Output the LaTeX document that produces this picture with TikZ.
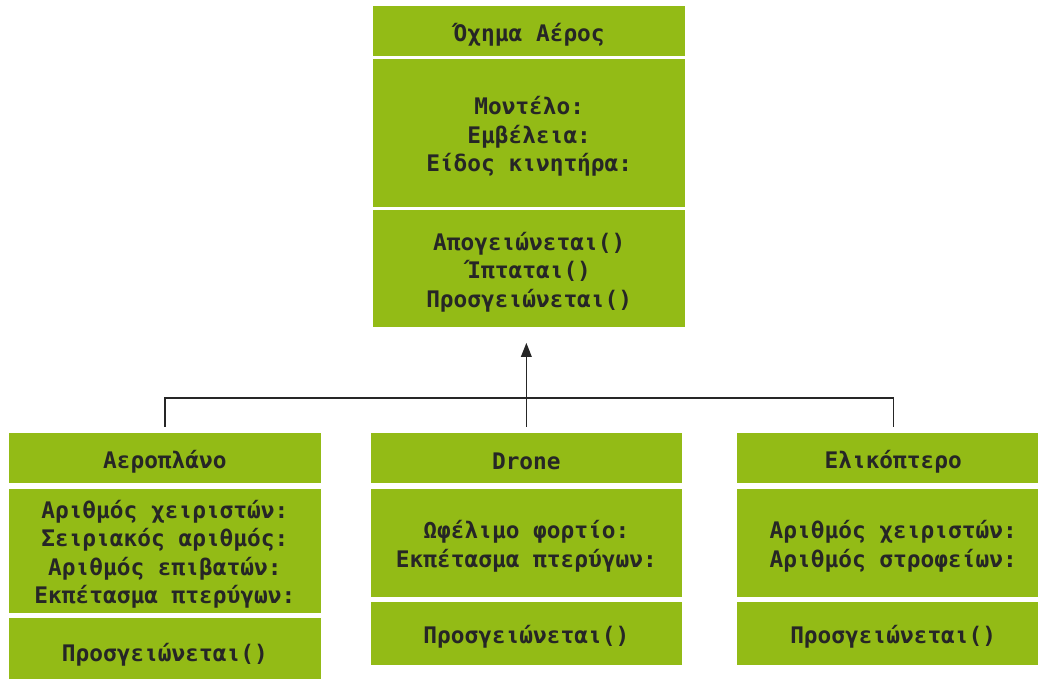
\documentclass[tikz,border=0pt]{standalone}
\usepackage{fontspec}
\usetikzlibrary{arrows.meta}
\newfontfamily\boxfont{DejaVu Sans Mono}
\definecolor{boxgreen}{RGB}{147,187,22}
\definecolor{inkdark}{RGB}{38,38,38}
\tikzset{
  sect/.style={fill=boxgreen, draw=none, inner sep=0pt},
  txt/.style={inner sep=0pt, align=center, yshift=-3.5pt,
    text=inkdark, font={\boxfont\bfseries\fontsize{22.8}{28.4}\selectfont}},
  conn/.style={draw=inkdark, line width=1.4pt},
}
\begin{document}
\begin{tikzpicture}[x=1pt,y=-1pt]
\useasboundingbox (0,0) rectangle (1038,679);
% top class
\node[sect, minimum width=311.7pt, minimum height=49.7pt, label={[txt]center:{Όχημα Αέρος}}] (top-t) at (529.2,30.85) {};
\node[sect, minimum width=311.7pt, minimum height=147.4pt, label={[txt]center:{Μοντέλο:\\Εμβέλεια:\\Είδος κινητήρα:}}] (top-a) at (529.2,133) {};
\node[sect, minimum width=311.7pt, minimum height=117.3pt, label={[txt]center:{Απογειώνεται()\\Ίπταται()\\Προσγειώνεται()}}] (top-m) at (529.2,268.65) {};
% left class
\node[sect, minimum width=311.7pt, minimum height=50.3pt, label={[txt]center:{Αεροπλάνο}}] (ap-t) at (164.85,457.85) {};
\node[sect, minimum width=311.7pt, minimum height=123.7pt, label={[txt]center:{Αριθμός χειριστών:\\Σειριακός αριθμός:\\Αριθμός επιβατών:\\Εκπέτασμα πτερύγων:}}] (ap-a) at (164.85,550.85) {};
\node[sect, minimum width=311.7pt, minimum height=66.7pt, label={[txt]center:{Προσγειώνεται()}}] (ap-m) at (164.85,651.65) {};
% middle class
\node[sect, minimum width=311.3pt, minimum height=50.3pt, label={[txt]center:{Drone}}] (dr-t) at (526.35,457.85) {};
\node[sect, minimum width=311.3pt, minimum height=107.7pt, label={[txt]center:{Ωφέλιμο φορτίο:\\Εκπέτασμα πτερύγων:}}] (dr-a) at (526.35,542.85) {};
\node[sect, minimum width=311.3pt, minimum height=63.3pt, label={[txt]center:{Προσγειώνεται()}}] (dr-m) at (526.35,633.65) {};
% right class
\node[sect, minimum width=311.7pt, minimum height=50.3pt, label={[txt]center:{Ελικόπτερο}}] (el-t) at (893.2,457.85) {};
\node[sect, minimum width=311.7pt, minimum height=107.7pt, label={[txt]center:{Αριθμός χειριστών:\\Αριθμός στροφείων:}}] (el-a) at (893.2,542.85) {};
\node[sect, minimum width=311.7pt, minimum height=63.3pt, label={[txt]center:{Προσγειώνεται()}}] (el-m) at (893.2,633.65) {};
% connectors
\coordinate (bus) at (526,404);
\draw[conn] ([yshift=6pt]ap-t.north) -- ([yshift=6pt]ap-t.north |- bus)
  -- ([yshift=6pt]el-t.north |- bus) -- ([yshift=6pt]el-t.north);
\draw[conn, -{Triangle[length=14pt,width=10.7pt]}] ([yshift=6pt]dr-t.north) -- ([yshift=-15.4pt]dr-t.north |- top-m.south);
\end{tikzpicture}
\end{document}
